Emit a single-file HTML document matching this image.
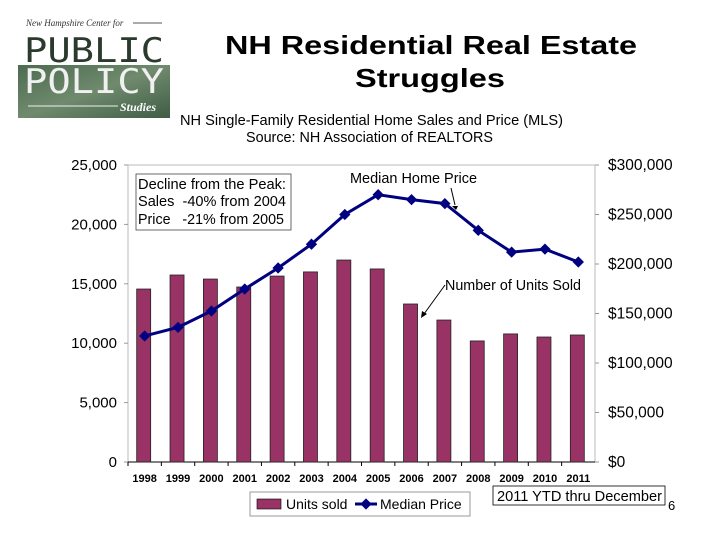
<!DOCTYPE html>
<html><head><meta charset="utf-8"><style>
body{margin:0;background:#fff;font-family:"Liberation Sans",sans-serif}
#c{position:relative;width:720px;height:540px;overflow:hidden}
</style></head><body>
<div id="c">
<svg width="720" height="540" font-family="Liberation Sans, sans-serif">
<defs><linearGradient id="g" x1="0" y1="0" x2="1" y2="1"><stop offset="0" stop-color="#4d6b50"/><stop offset="0.5" stop-color="#6f8a6d"/><stop offset="1" stop-color="#3f5c44"/></linearGradient></defs>
<g>
<rect x="18" y="65" width="152" height="53" fill="url(#g)"/>
<text x="26" y="26" font-family="Liberation Serif, serif" font-style="italic" font-size="9" fill="#333">New Hampshire Center for</text>
<line x1="133" y1="23" x2="162" y2="23" stroke="#555"/>
<text x="24" y="62" font-family="DejaVu Sans Mono, monospace" font-size="34" fill="#2a3a2c" textLength="140" lengthAdjust="spacingAndGlyphs">PUBLIC</text>
<text x="24" y="93" font-family="DejaVu Sans Mono, monospace" font-size="34" fill="#f0f0f0" textLength="140" lengthAdjust="spacingAndGlyphs">POLICY</text>
<line x1="28" y1="106" x2="118" y2="106" stroke="#eee"/>
<text x="120" y="111" font-family="Liberation Serif, serif" font-style="italic" font-weight="bold" font-size="12" fill="#fff">Studies</text>
</g>
<text x="225" y="54" font-size="26" font-weight="bold" textLength="412" lengthAdjust="spacingAndGlyphs">NH Residential Real Estate</text>
<text x="355" y="87" font-size="26" font-weight="bold" textLength="150" lengthAdjust="spacingAndGlyphs">Struggles</text>
<text x="180" y="125" font-size="14.5" textLength="383" lengthAdjust="spacingAndGlyphs">NH Single-Family Residential Home Sales and Price (MLS)</text>
<text x="246" y="142" font-size="14.5" textLength="247" lengthAdjust="spacingAndGlyphs">Source: NH Association of REALTORS</text>
<g id="plot"></g>
<g>
<rect x="250" y="492" width="220" height="24" fill="#fff" stroke="#999"/>
<rect x="257" y="499" width="24" height="10" fill="#993366" stroke="#000" stroke-width="0.6"/>
<text x="286" y="509" font-size="14">Units sold</text>
<line x1="355" y1="504" x2="377" y2="504" stroke="#000080" stroke-width="3"/>
<rect x="362" y="500" width="8" height="8" fill="#000080" transform="rotate(45 366 504)"/>
<text x="380" y="509" font-size="14">Median Price</text>
</g>
<rect x="493" y="486" width="172" height="19" fill="#fff" stroke="#000" stroke-width="0.8"/>
<text x="497" y="501" font-size="14.5" textLength="165" lengthAdjust="spacingAndGlyphs">2011 YTD thru December</text>
<text x="668" y="510" font-size="13">6</text>
</svg>
</div>
<script>
const years=["1998","1999","2000","2001","2002","2003","2004","2005","2006","2007","2008","2009","2010","2011"];
const units=[14560,15740,15400,14730,15650,16000,17000,16250,13300,11950,10190,10780,10520,10690];
const prices=[127300,136000,152500,174700,196000,220000,250000,270000,265000,261000,234000,212000,215000,202000];
const leftTicks=[0,5000,10000,15000,20000,25000];
const leftLabels=["0","5,000","10,000","15,000","20,000","25,000"];
const rightTicks=[0,50000,100000,150000,200000,250000,300000];
const rightLabels=["$0","$50,000","$100,000","$150,000","$200,000","$250,000","$300,000"];
const NS="http://www.w3.org/2000/svg";
const g=document.getElementById('plot');
const X0=128,X1=595,Y0=462,Y1=165;
const bw=(X1-X0)/years.length;
const xc=i=>X0+bw*(i+0.5);
const yl=v=>Y0-(v/25000)*(Y0-Y1);
const yr=v=>Y0-(v/300000)*(Y0-Y1);
function mk(t,a,p){const e=document.createElementNS(NS,t);for(const k in a)e.setAttribute(k,a[k]);(p||g).appendChild(e);return e;}
const fr=mk('rect',{x:X0,y:Y1,width:X1-X0,height:Y0-Y1,fill:'none',stroke:'#bbb','stroke-width':1});


mk('line',{x1:X0,y1:Y0,x2:X1,y2:Y0,stroke:'#000'});
leftTicks.forEach((v,i)=>{
 mk('line',{x1:X0-4,y1:yl(v),x2:X0,y2:yl(v),stroke:'#999'});
 const t=mk('text',{x:X0-11,y:yl(v)+5,'text-anchor':'end','font-size':15});t.textContent=leftLabels[i];
 
 
});
rightTicks.forEach((v,i)=>{
 mk('line',{x1:X1,y1:yr(v),x2:X1+4,y2:yr(v),stroke:'#999'});
 const t=mk('text',{x:X1+13,y:yr(v)+5,'font-size':15.5});t.textContent=rightLabels[i];
 
 
});
years.forEach((y,i)=>{
 mk('line',{x1:X0+bw*i,y1:Y0,x2:X0+bw*i,y2:Y0+4,stroke:'#000'});
 const t=mk('text',{x:xc(i),y:Y0+20,'text-anchor':'middle','font-size':11,'font-weight':'bold'});t.textContent=y;
 
 
 const b=mk('rect',{x:xc(i)-8,y:yl(units[i]),width:14,height:Y0-yl(units[i]),fill:'#993366',stroke:'#222','stroke-width':0.8});
 
 
});
const pl=mk('polyline',{points:prices.map((p,i)=>xc(i)+','+yr(p)).join(' '),fill:'none',stroke:'#000080','stroke-width':3});


prices.forEach((p,i)=>{
 const m=mk('rect',{x:xc(i)-4,y:yr(p)-4,width:8,height:8,fill:'#000080',transform:`rotate(45 ${xc(i)} ${yr(p)})`});
 
 
});
const box=mk('rect',{x:136,y:174,width:155,height:56,fill:'#fff',stroke:'#444','stroke-width':0.8});


[["Decline from the Peak:",189,148],["Sales  -40% from 2004",206,148],["Price   -21% from 2005",224,146]].forEach(a=>{
 const t=mk('text',{x:138,y:a[1],'font-size':14.5,textLength:a[2],lengthAdjust:'spacingAndGlyphs'});t.textContent=a[0];t.style.whiteSpace='pre';
 
 
});
let t=mk('text',{x:350,y:183,'font-size':14.5,textLength:127,lengthAdjust:'spacingAndGlyphs'});t.textContent='Median Home Price';


mk('line',{x1:451,y1:188,x2:455,y2:205,stroke:'#000'});
mk('path',{d:'M452,206 L458,206 L456,210 Z',fill:'#000'});
t=mk('text',{x:445,y:290,'font-size':14.5,textLength:136,lengthAdjust:'spacingAndGlyphs'});t.textContent='Number of Units Sold';


mk('line',{x1:445,y1:285,x2:424,y2:314,stroke:'#000'});
mk('path',{d:'M421,318 L422,311 L427,314 Z',fill:'#000'});
</script>
</body></html>
